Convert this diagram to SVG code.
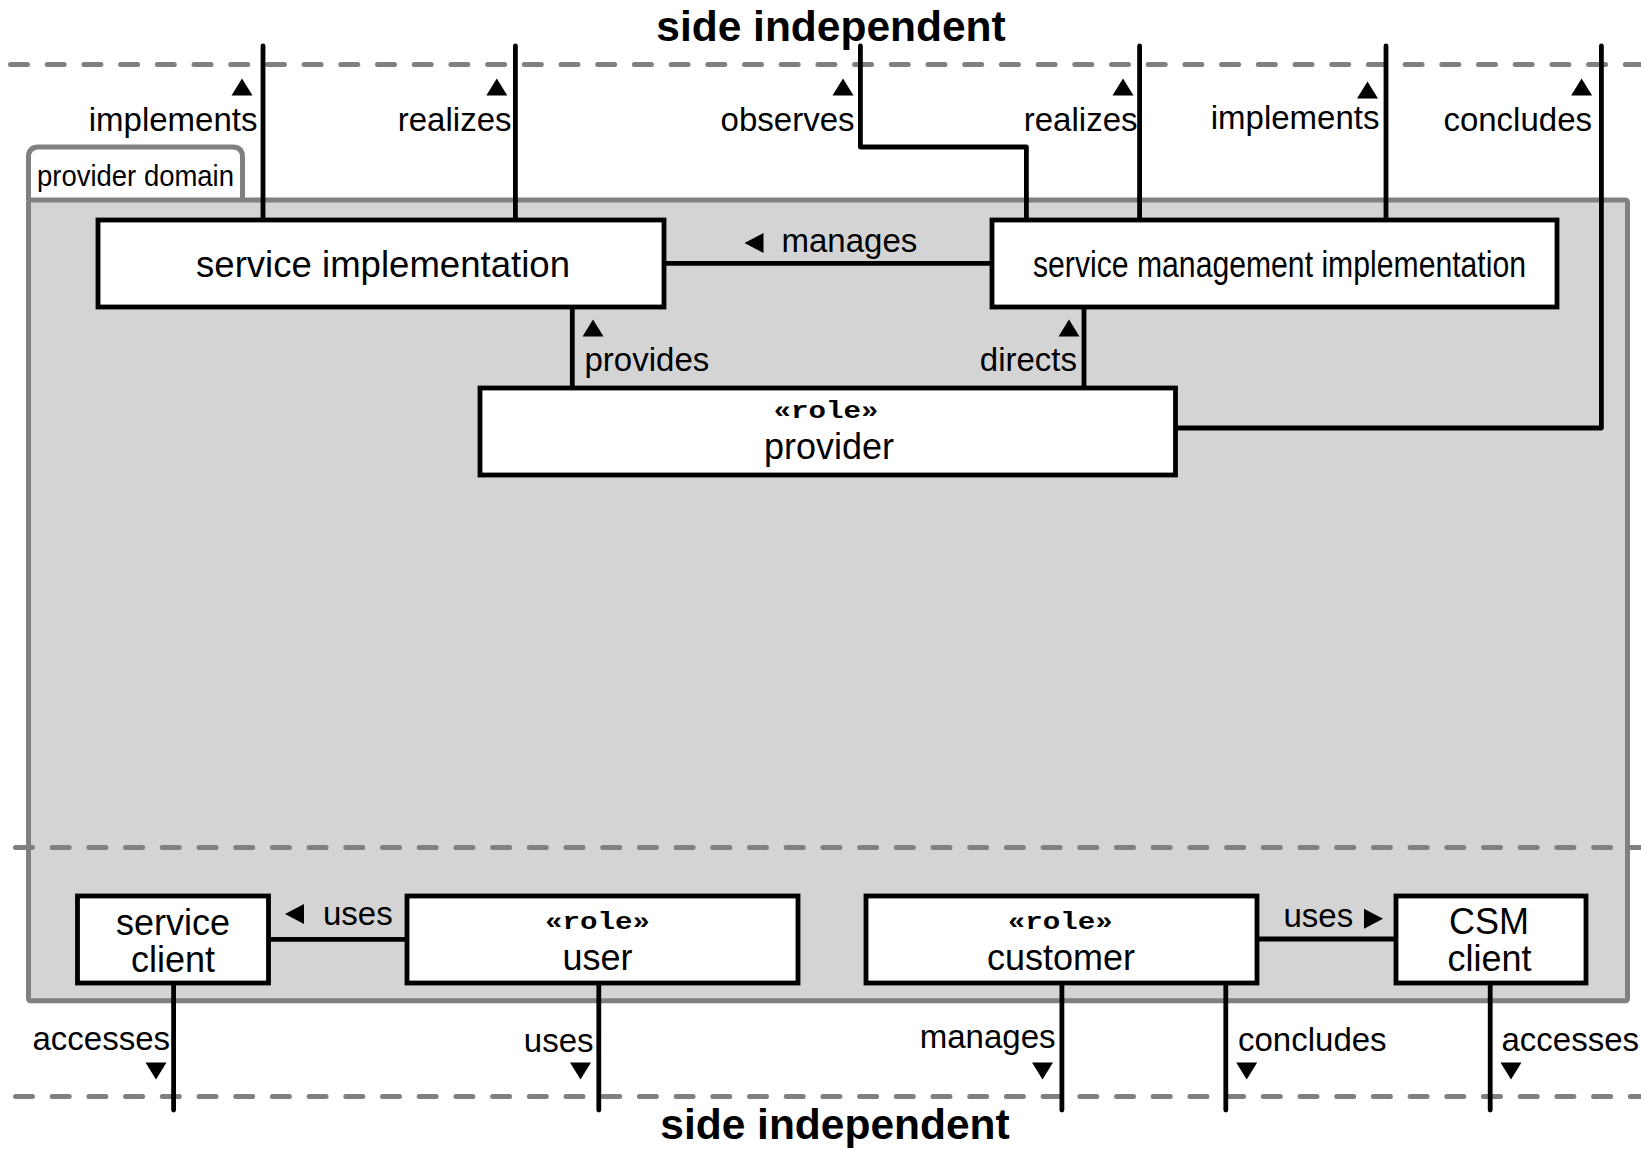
<svg xmlns="http://www.w3.org/2000/svg" width="1641" height="1149" viewBox="0 0 1641 1149">
<style>
.pkg{fill:#d4d4d4;stroke:#808080;stroke-width:5}
.tab{fill:#fff;stroke:#808080;stroke-width:5}
.dash{fill:none;stroke:#808080;stroke-width:5;stroke-linecap:round;stroke-dasharray:17 19.7}
.box{fill:#fff;stroke:#000;stroke-width:4.8}
.ln{fill:none;stroke:#000;stroke-width:4.8;stroke-linecap:round;stroke-linejoin:round}
.lbl{font-family:"Liberation Sans",Arial,sans-serif;font-size:33px;fill:#000}
.nm{font-family:"Liberation Sans",Arial,sans-serif;font-size:36px;fill:#000;text-anchor:middle}
.st{font-family:"Liberation Mono","Courier New",monospace;font-weight:bold;font-size:23px;fill:#000;text-anchor:middle}
.ttl{font-family:"Liberation Sans",Arial,sans-serif;font-weight:bold;font-size:42.5px;fill:#000;text-anchor:middle}
.end{text-anchor:end}
</style>
<defs>
<path id="up" d="M-10.5,8.5 L10.5,8.5 L0,-8.5 Z" fill="#000"/>
<path id="dn" d="M-10.5,-8.5 L10.5,-8.5 L0,8.5 Z" fill="#000"/>
<path id="lt" d="M9.5,-10 L9.5,10 L-9.5,0 Z" fill="#000"/>
<path id="rt" d="M-9.5,-10 L-9.5,10 L9.5,0 Z" fill="#000"/>
</defs>

<g id="provider-domain">
<path class="tab" d="M28.5,200 V157 Q28.5,147 38.5,147 H232.5 Q242.5,147 242.5,157 V200"/>
<rect class="pkg" x="28.5" y="200" width="1599" height="800.7" rx="2"/>
<text x="37" y="186" font-family="'Liberation Sans',Arial,sans-serif" font-size="30" textLength="197" lengthAdjust="spacingAndGlyphs">provider domain</text>
</g>

<g id="separators">
<line class="dash" x1="10.5" y1="64.5" x2="1641" y2="64.5"/>
<line class="dash" x1="15.5" y1="847.5" x2="1641" y2="847.5"/>
<line class="dash" x1="15.5" y1="1096.5" x2="1641" y2="1096.5"/>
<text class="ttl" x="831" y="40.5">side independent</text>
<text class="ttl" x="835" y="1139">side independent</text>
</g>

<g id="connectors">
<path class="ln" d="M263,46 V220"/>
<path class="ln" d="M515.4,46 V220"/>
<path class="ln" d="M860.4,46 V147 H1026.4 V220"/>
<path class="ln" d="M1139.6,46 V220"/>
<path class="ln" d="M1386,46 V220"/>
<path class="ln" d="M1601.4,46 V428 H1176"/>
<path class="ln" d="M664,263.3 H992"/>
<path class="ln" d="M572.3,307 V388"/>
<path class="ln" d="M1084,307 V388"/>
<path class="ln" d="M268,939.3 H407"/>
<path class="ln" d="M1257,939 H1396"/>
<path class="ln" d="M173.6,983 V1110"/>
<path class="ln" d="M598.8,983 V1110"/>
<path class="ln" d="M1061.9,983 V1110"/>
<path class="ln" d="M1225.8,983 V1110"/>
<path class="ln" d="M1490.2,983 V1110"/>

<use href="#up" x="242" y="87"/>
<use href="#up" x="496.8" y="87"/>
<use href="#up" x="843" y="87"/>
<use href="#up" x="1123" y="87"/>
<use href="#up" x="1367.5" y="90"/>
<use href="#up" x="1581.6" y="87"/>
<use href="#up" x="593" y="328"/>
<use href="#up" x="1069" y="328"/>
<use href="#lt" x="754" y="243"/>
<use href="#lt" x="294.5" y="914"/>
<use href="#rt" x="1373.5" y="918.8"/>
<use href="#dn" x="156" y="1071"/>
<use href="#dn" x="580.5" y="1071"/>
<use href="#dn" x="1042.5" y="1071"/>
<use href="#dn" x="1246.7" y="1071"/>
<use href="#dn" x="1511" y="1071"/>

<text class="lbl end" x="257.5" y="131">implements</text>
<text class="lbl end" x="511.5" y="131">realizes</text>
<text class="lbl end" x="854.5" y="131">observes</text>
<text class="lbl end" x="1137.5" y="131">realizes</text>
<text class="lbl end" x="1379.5" y="129">implements</text>
<text class="lbl end" x="1592" y="131">concludes</text>
<text class="lbl" x="781.5" y="252">manages</text>
<text class="lbl" x="584.5" y="371">provides</text>
<text class="lbl end" x="1077" y="371">directs</text>
<text class="lbl" x="323" y="925">uses</text>
<text class="lbl" x="1283.5" y="927">uses</text>
<text class="lbl end" x="170" y="1050">accesses</text>
<text class="lbl end" x="593.5" y="1052">uses</text>
<text class="lbl end" x="1055.5" y="1048">manages</text>
<text class="lbl" x="1238" y="1051">concludes</text>
<text class="lbl" x="1501.5" y="1051">accesses</text>
</g>

<g id="service-implementation">
<rect class="box" x="98" y="220" width="566" height="87"/>
<text class="nm" x="383" y="277" textLength="374" lengthAdjust="spacingAndGlyphs">service implementation</text>
</g>

<g id="service-management-implementation">
<rect class="box" x="992" y="220" width="565" height="87"/>
<text class="nm" x="1279.5" y="277" textLength="493" lengthAdjust="spacingAndGlyphs">service management implementation</text>
</g>

<g id="provider">
<rect class="box" x="480" y="388" width="695.5" height="87"/>
<text class="st" x="826" y="418" textLength="105" lengthAdjust="spacingAndGlyphs">«role»</text>
<text class="nm" x="829" y="459">provider</text>
</g>

<g id="service-client">
<rect class="box" x="77.5" y="896" width="191" height="87"/>
<text class="nm" x="173" y="935">service</text>
<text class="nm" x="173" y="972">client</text>
</g>

<g id="user">
<rect class="box" x="407" y="896" width="391" height="87"/>
<text class="st" x="597.6" y="929" textLength="105" lengthAdjust="spacingAndGlyphs">«role»</text>
<text class="nm" x="597.6" y="970">user</text>
</g>

<g id="customer">
<rect class="box" x="866" y="896" width="391" height="87"/>
<text class="st" x="1060.3" y="929" textLength="105" lengthAdjust="spacingAndGlyphs">«role»</text>
<text class="nm" x="1061" y="970">customer</text>
</g>

<g id="csm-client">
<rect class="box" x="1396" y="896" width="190" height="87"/>
<text class="nm" x="1489" y="934">CSM</text>
<text class="nm" x="1489.5" y="971">client</text>
</g>
</svg>
